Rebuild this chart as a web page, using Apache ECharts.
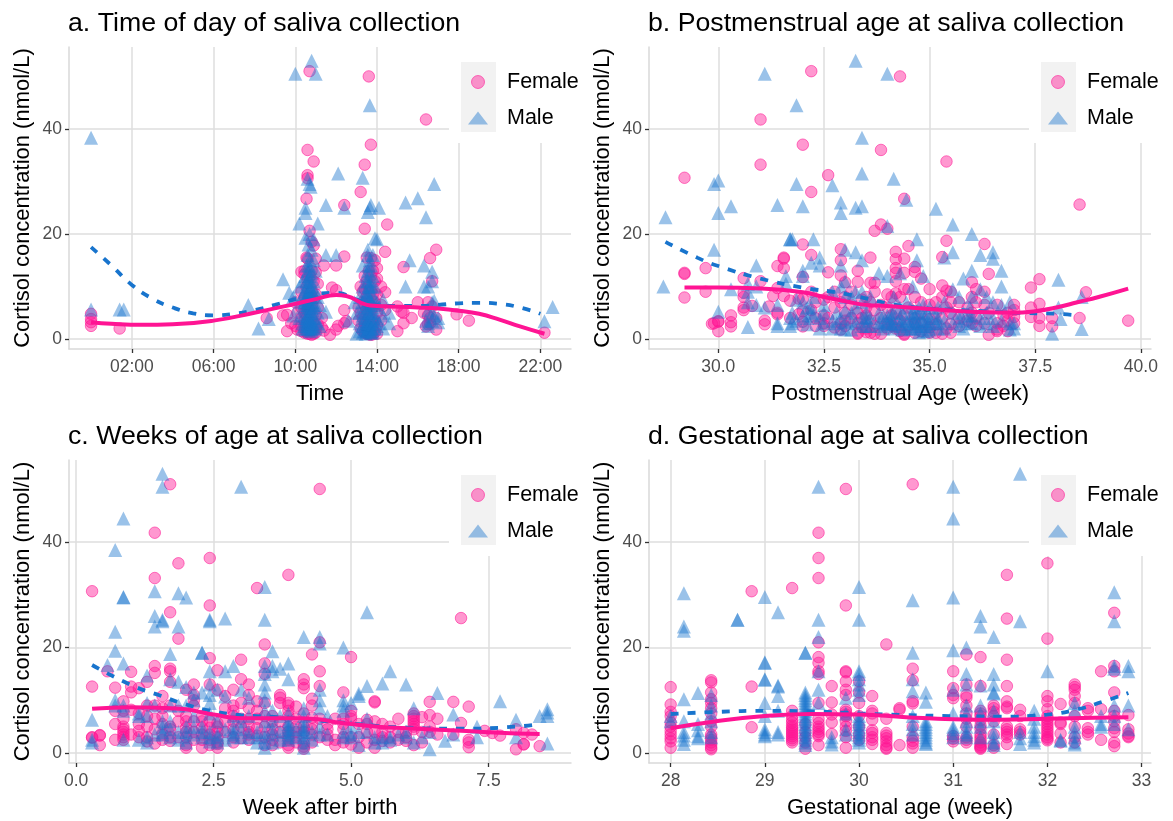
<!DOCTYPE html>
<html><head><meta charset="utf-8">
<style>html,body{margin:0;padding:0;background:#fff}#c{width:1173px;height:821px}</style>
<script src="https://cdn.jsdelivr.net/npm/echarts@6/dist/echarts.min.js"></script>
</head><body><div id="c"></div>
<script>
// Each block: [x, [y values read at that x]]
const aFemale=[[0,[4.8,3.8,3.2,2.5]],[1.4,[2]],[8.6,[4]],[9.4,[4.5]],[9.6,[1.5,4.6]],[9.8,[3]],[10,[7,2.5]],[10.1,[1.8,5]],
[10.3,[12.8,9,6,4,2.5,1.5]],[10.45,[13,12.3,8,5,3.5,1.2]],[10.55,[26.7,15.5,10,7,4.5,2.8,1.4]],[10.6,[36,31.2,30.6,15.3,11,6,3.2,1]],[10.7,[51,20.6,12,8,5,2.2,1]],[10.8,[18.5,13,9,6.5,4,1.6,0.8]],[10.9,[33.8,17.8,11,7.5,3,1]],[11,[15.3,12.7,8.5,4.5,2,1.2]],[11.1,[10.5,6,2.8]],[11.4,[14,1.6]],[11.3,[2.2,4]],[11.7,[0.8]],[11.8,[9.8]],[12,[14,9.3,1.8]],[12.1,[2.5]],[12.4,[25.5,15.7,5.5,3]],[12.5,[3.4]],
[13.1,[3.5,6]],[13.2,[28,10,5,2]],[13.3,[9,7,4,1.5]],[13.4,[33.2,21,12,9.5,6.5,3,1.2]],[13.5,[15.5,11,8,5,2.5,1]],[13.6,[50,13,10,7,4,1.6,0.9]],[13.7,[37,15.4,12,9,5.5,3,1,0.8]],[13.8,[13,8.5,6,2.2,0.9]],[13.9,[15,11,7,3.5,1.3]],[14,[13.5,11.5,8.5,5,2.5,1]],[14.2,[10,6.5,3.5]],[14.4,[16.6,8.9,5.5]],[14.5,[21.8]],
[15,[1.5,6.2]],[15.2,[5.2]],[15.3,[13.7,3,5]],[15.7,[4]],[16,[7]],[16.3,[5]],[16.4,[41.8,2.4]],[16.5,[7,4.5,2.8]],[16.6,[15.4,3,4]],[16.7,[11,6.2]],[16.9,[17,4,1.8]],[17.9,[4.7]],[18.5,[3.5]],[22.2,[1.2]]];
const aMale=[[0,[38.3,5.6]],[1.4,[5.6]],[1.6,[5.6]],[7.7,[6.5]],[8.2,[2]],[8.7,[3.8]],[9.4,[11.4]],[9.7,[8.8]],[9.9,[4.5,8]],[10,[50.5]],
[10.2,[22,10,7,4]],[10.35,[11,8,6,3,2]],[10.45,[9,7,4.5,2.5]],[10.5,[25,24,19.3,12,9.5,7.5,5.5,3.5,1.8]],[10.55,[14,11,8.5,6.5,4,2.5]],[10.6,[30.5,16,13,10.5,8.5,6.5,4.5,3,2]],[10.65,[18,14,11.5,9,7,5,3.5,2]],[10.7,[29.5,20,15,12,10,8,6,4,2.5,1.5]],[10.75,[29,13.5,11,9,7,5,3.5,2]],[10.8,[53,17,12.5,10,8,6,4,2.5,1.6]],[10.85,[9,7,5.5,3,2]],[10.9,[19,15,11,8.5,6,4,2.2]],[11,[50.5,13,9,6.5,3.5,2]],[11.1,[22,8,5,3]],[11.2,[6.5,2.5]],[11.5,[25.5,16,5.2]],[12,[16]],[12.1,[31.5]],[12.4,[25]],[12.6,[3.5]],[12.9,[7]],[13,[1,5]],
[13.15,[8,5,3,1.5]],[13.3,[30.7,14,10,7,4.5,2.5,1.2]],[13.4,[8,6,4,2.5,1.5]],[13.45,[12,9,6.5,4,2,1]],[13.5,[11,8.5,5.5,3,1.5]],[13.55,[24.2,17,16,13,11,8.5,6,3.5,1.8]],[13.6,[14,10,7.5,5,3,2]],[13.65,[44.5,25,15,12.5,10,7.5,5,3,1.5]],[13.7,[25.5,14,11,9,6.5,4,2.2,1.2]],[13.75,[10,7,5,3.5,2,1.2]],[13.8,[16,12,8,5,2.8,1.4]],[13.9,[19.2,10,6.5,3.5,2]],[14,[19,7,4,2.5]],[14.1,[25,6,3]],[14.3,[7.5,4.5,2]],[14.6,[5,3]],
[15.4,[26,10]],[15.6,[15]],[16,[26.8]],[16.3,[14,10]],[16.4,[23.2,3.5]],[16.5,[10,5.5,3,2.5]],[16.7,[12.8,11,7,5,3.5]],[16.8,[29.5,7.3,4.5]],[17,[4,3.2]],[22.2,[3.4]],[22.6,[6.1]]];
const aFemaleLine=[[0,3.2],[1,2.9],[2.5,2.7],[4,2.8],[6,3.5],[8,5],[10,6.7],[11,7.6],[12,8.4],[12.5,8.2],[13.5,6.5],[14,6.3],[16,6],[17,5.8],[18,5.4],[19,4.8],[20,3.7],[21,2.4],[22.2,1]];
const aMaleLine=[[0,17.5],[1,14],[2,10.3],[3,7.7],[4,6],[5,4.9],[6,4.5],[7,4.8],[8,5.5],[9,6.5],[10,7.6],[11,8.6],[12,8.8],[13,7.5],[14,6.4],[15,6.3],[16,6.3],[17,6.5],[18,6.8],[19,6.9],[20,6.7],[21,6],[22,4.8]];

const bFemale=[[29.2,[30.7,12.6,12.4,7.9]],[29.7,[13.5,9]],[29.85,[2.9]],[29.9,[3]],[30,[3.4,3.3,1.5]],[30.3,[4.5,3.2,2.4]],[30.6,[11.6,8.8,8,6,5.5]],[30.8,[6.3]],[31,[41.8,33.2,11]],[31.1,[3.5,2.8]],[31.2,[6.2]],[31.3,[8.2]],[31.4,[13.9,9.7,5,4.7]],[31.55,[15.5,15.3,13.5,8.2]],[31.7,[7.3,4]],[31.9,[7.7,4.7]],[32,[37,18,11.8,7.6,5.3,3.3,2.4]],[32.2,[51,28,16,9,5.5]],[32.5,[7.5,4.5,3,2.5]],[32.6,[31.2,12.7,8,4]],[32.9,[17.1,15,12.1,7,3,1.8]],[33,[10.8,8,5,3.5,2.5]],[33.3,[13,10.9,5,3,1.2,1]],[33.4,[7.5,4,2.2]],[33.5,[8,6,4.5,2,1.3]],[33.6,[15.5,10.7,7,3.5,1.2]],[33.7,[20.6,10.7,9,1,5.5,2.5]],[33.85,[36,21.8,1,6.5,4]],[34,[21,8.5,6,3,2]],[34.1,[8,4.5,2.5]],[34.2,[16.6,15.2,13.5,12.6,11,8.7,5,2.5,2]],[34.3,[50,8,3.5,1.5]],[34.4,[26.7,15.3,12.6,9.5,4.5,1,0.8]],[34.5,[17.7,9.5,6,2.5]],[34.65,[13.7,12.8,8,4,1.2,3]],[34.8,[11.5,7,5,3,1.5]],[35,[9.5,6.5,3.8,2.2,1.2]],[35.15,[7,5,2.8,1.2]],[35.3,[15.6,10.2,8,4,1]],[35.4,[33.8,18.7,9.2,6,2]],[35.5,[9,7,5,2.8,1.2]],[35.7,[7,4,2.5]],[35.9,[6,3.5]],[36,[10.8,8,5,3]],[36.1,[9.5,7,4,2.5]],[36.3,[18.1,9,6.5,3]],[36.4,[12.4,5,0.8]],[36.6,[6.5,3,1.5,1.8]],[36.85,[5,3.5,1.5]],[37,[6.5,5.5,4.2,3]],[37.4,[9.8,6,4.2]],[37.6,[11.4,6.7,4,2.5]],[37.9,[4,2.4]],[38.55,[25.6,4]],[38.7,[8.9]],[39.7,[3.5]],[32.3,[7,4,2.5]],[32.75,[9,6,2.2]],[33.15,[9,6.5,4]],[36.75,[4.5,2.5]]];
const bMale=[[28.7,[10]],[28.75,[23.2]],[29.9,[29.5,17]],[30,[30.2,24,5.2]],[30.3,[25.3,9.5]],[30.7,[2.3,7,9,10.5]],[30.9,[14,6.5,10]],[31.1,[50.5,6]],[31.4,[25.5,6.5,3,2.5]],[31.6,[12,10.5]],[31.7,[19,19,4,2.5]],[31.75,[19,5,3]],[31.85,[44.5,29.5,7.5,3.5]],[32,[25.3,13,12,7,4.5]],[32.2,[14.5,5,6]],[32.25,[19,4.5,8]],[32.4,[15.5,14,2,4]],[32.5,[3,5,6.5]],[32.7,[29.3,9,3.5,2]],[32.8,[5,3]],[32.9,[26,24,14,10,4,2]],[33,[17,11,8,5.5,3.2,1.8]],[33.25,[53,25,16.5,9,6,3]],[33.4,[38.3,31.5,25.3,15,9,7,4,2.5]],[33.5,[5,3.5,2.5,4.2]],[33.6,[8,4,2.5]],[33.8,[12.5,5,3.2,2.5]],[33.9,[4.5,3,2]],[34,[50.5,21.5,12,3.5,2.8,4.5]],[34.1,[5,4,3,2.5]],[34.15,[30.5,8,5,3,2]],[34.3,[12.5,6,4,2.8]],[34.35,[5,3.5,2.5,1.8]],[34.45,[26.5,7,3.5,2]],[34.55,[6,4.5,3,2]],[34.6,[10,5,4,3,2]],[34.7,[19,15,5,3.5,2.5]],[34.75,[6,4.8,3,2,1.3]],[34.85,[12,6.5,4.5,3.5,2.5,1.5]],[34.95,[5,3.5,2.5,1.5]],[35,[6,3,4,1.8]],[35.15,[24.8,3,4.5]],[35.2,[6,4,3,2]],[35.35,[15.5,7,3.5,2]],[35.55,[21.8,16.5,9.5,5,3]],[35.8,[11.5,5,3.5,2]],[35.95,[6,4.5,3]],[36,[20,13,8,4.5,3]],[36.2,[16,9.5,4,2.5]],[36.5,[16.5,15.3,7,4,2.5]],[36.7,[13,10,6.5,3.5]],[36.9,[7,3,1.8]],[37,[3,2]],[38.05,[11.3,6]],[38.1,[3.8]],[37.9,[1]],[38.6,[8,1.9]],[32.1,[4,2.8,6]],[33.15,[8,5,3.5,1.8]],[35.7,[8,4,2.5]],[36.35,[8,5,3]]];
const bFemaleLine=[[29.2,9.8],[30,9.8],[31,9.6],[32,8.9],[32.5,8],[33,7.2],[33.5,6.5],[34,6.3],[35,5.7],[36,5.2],[37,5],[37.5,5.3],[38,6],[38.5,7],[39,8],[39.7,9.6]];
const bMaleLine=[[28.75,18.5],[29.5,15.5],[30,13.9],[31,11.5],[32,9.8],[33,8.6],[34,6.8],[34.5,6.2],[35,5.8],[36,5.4],[37,5],[38,4.8],[38.5,4.5]];

const cFemale=[[0.29,[30.7,12.6,3,2.9]],[0.43,[3.4,3.3,1.5]],[0.57,[15.5]],[0.71,[12.4,8,5.5,2.5]],[0.86,[9.8,8,6.5,5,4.5,4,3.5,3,2.5]],[1,[15.4,12.6,11.5,8.2,3.5]],[1.14,[12.3,7.5,4.2]],[1.29,[13.5,9,7,5,3,2.2]],[1.43,[41.8,33.2,16.5,15.2,9,6.5,4.5,1.8]],[1.57,[10.8,8.5,5.5,3.5]],[1.71,[51,26.7,16,15.5,13.5,9,5,4.5,3,2.3]],[1.86,[36,21.7,6,3,8]],[2,[12,7,4.8,3,1.5,1]],[2.14,[13,11,10,9,6,2.5,4]],[2.29,[7,4.8,2.5,1]],[2.43,[37,28,18,13,6,4.8,3.5,2.5,1.5]],[2.57,[15.7,12,5.7,5,3,1.7,1]],[2.71,[10.8,8.5,4,6]],[2.86,[12,9,8,7,4.5,3]],[3,[17.7,14,9.5,6.5,2.8,5]],[3.14,[13,11,8.5,5,2.5]],[3.29,[31.3,9.8,8,4.7,3.3,6.5]],[3.43,[20.6,17,15,9.5,7,5,3,1.5]],[3.57,[6,2.5,1.5,4.5]],[3.71,[11,10.5,9.5,6,2,4]],[3.86,[33.8,9.5,9,8,7,2.5,1.5,1,5]],[4,[8.8,6.5,3,5]],[4.14,[14,13,12.3,7.5,5,4,1.8,1.2,0.8]],[4.29,[18.7,10.3,9,6.7,5.5,3.5]],[4.43,[50.1,21,15.5,12.7,6.5,3]],[4.57,[4.5,3.5]],[4.71,[6.5,2.5,1.5]],[4.86,[11.5,6.5,4.5,2]],[5,[18.2,8,7,6.5,3,1.6]],[5.14,[5.5,1,3]],[5.29,[6.3,5.5,2,4]],[5.43,[9.8,9.6,6,4,2.5,1]],[5.57,[5.5,4,2.3,3]],[5.71,[5,3,2]],[5.86,[6.5,4,2.5]],[6,[4,3,2.3]],[6.14,[7.5,7,6.5,6,5.5,5,4.5,1.5]],[6.29,[6.8,2,4]],[6.43,[9.7,7.2,4,5]],[6.57,[6.5,3.5]],[6.86,[9.7,3.5]],[7,[25.6,5.7]],[7.14,[8.8,2.5,2,1.1]],[7.43,[4.2]],[7.57,[3.8]],[7.71,[3.3]],[8,[4.5,0.7]],[8.14,[1.7,1.6,3.8]],[8.29,[3.5]],[8.43,[1.3]],[1.14,[3,5.5]],[1.57,[2.5,7]],[2,[4,6]],[2.29,[3.5,6]],[2.57,[4,2]],[2.86,[6,2]],[3.14,[4,3.5,6.5]],[3.57,[3.5,7]],[3.86,[4,3.2]],[4,[2,4]],[4.29,[2,4.5]],[4.57,[5.5,2.5]],[4.86,[3,5.5]]];
const cMale=[[0.29,[6.3,2.5,2]],[0.57,[16.7]],[0.71,[38.5,23,19.4,10,9]],[0.86,[44.5,29.6,29.5,17,9,8,2.5]],[1.14,[7.5,7,2.5]],[1.29,[14.7,9.5,7,2,3]],[1.43,[30.7,26,24,9,3.5]],[1.57,[53,50.5,25.3,25,6,5,4]],[1.71,[18.8,14,9,6,4.5,3]],[1.86,[30.3,24,13.5,9,4,2.5]],[2,[29.5,12.5,9,5,3,2,4]],[2.14,[11.5,10,7,3.5,5]],[2.29,[19,19,11.5,5,3,4]],[2.43,[25.3,25,15.5,13,11,9.5,7.5,4,2.2,3]],[2.57,[12,6,3.5,3,2]],[2.71,[25.5,15.5,10.7,4.5,2.5]],[2.86,[16.5,7,5,3.5]],[3,[50.5,12,6,3,4.5]],[3.14,[10.5,7,3,4]],[3.29,[4,3,2]],[3.43,[31.5,25.3,16.5,15,13,11.5,10,8,6,4,2,1,3]],[3.57,[19.3,16.5,15.5,8,2,3.5]],[3.71,[16,7,4,2.5]],[3.86,[17,14,7.5,6,5,4,3,2.5]],[4,[4.5,3]],[4.14,[22,8.5,6,4,3,2,1,5,7]],[4.29,[4,2.5]],[4.43,[22,20.8,12,10,8.5,5,3.5]],[4.57,[7,3.5]],[4.86,[20,10,9,8,4,3]],[5,[9.5,5,3.5,3]],[5.14,[11.3,10.8,1.5,4]],[5.29,[26.7,12.7,6.5,4]],[5.43,[3,2]],[5.57,[13.2,3,2]],[5.71,[15.5,3,2.5]],[5.86,[3.5]],[6,[13,4,3]],[6.14,[8.5,2]],[6.29,[3]],[6.43,[4,0.7]],[6.57,[11.4]],[6.71,[2.3]],[6.86,[7.3,3.5]],[7.29,[5,3]],[7.71,[9.8]],[8,[6.3,3]],[8.43,[7]],[8.57,[8.3,7.7,7,1.8]],[3.86,[3.5,4.5,5.5]],[4.14,[3.5,4.5]],[2.86,[3,4]],[3.57,[4.5,6]],[1.57,[3.5]]];
const cFemaleLine=[[0.29,8.4],[1,8.7],[1.5,8.6],[2,8.3],[2.2,7.9],[2.5,7.3],[3,6.6],[3.5,6.6],[4,6.6],[4.4,6.4],[4.7,5.9],[5,5.5],[5.5,5],[6,4.7],[7,4.2],[8,3.7],[8.43,3.6]];
const cMaleLine=[[0.29,16.7],[1,12.9],[1.5,11],[2,9.2],[2.5,7.9],[3,7.2],[4,6.6],[5,5.6],[6,4.8],[7,4.6],[8,5],[8.43,5.5]];

const dFemale=[[28,[12.5,9.2,7.8,7,5.8,5,4.2,3.5,2.8,2.2,1]],[28.43,[13.8,13.4,11.5,10.2,9.5,8.5,7.5,6,5,3.5,3,2.5,2,1.5,1,0.7]],[28.86,[30.7,12.6,4.9]],[29.29,[31.3,8,7,6.3,5.8,5.2,4.8,4.4,4,3.6,3.2,2.8,2.4,2]],[29.43,[5.5,4,3,2,0.8]],[29.57,[41.8,37,33.2,21,18.2,17.1,15.5,15,9.5,6.5,5.7,5,4.5,4,3.5,3.2,1.5]],[29.71,[12.7,9.6,7.3,5.8,3.6]],[29.86,[50.1,28,15.5,15.3,13.6,12,11,8.2,7.8,7.3,7,6,5,4.2,3,1]],[30,[13.6,11.5,9.5,7,5,3.5,2.5]],[30.14,[10.8,8,7.5,6.3,4.3,3.8,3,2.5,1.7]],[30.29,[20.6,6.5,3.8,3.3,2.8,2.2,1.5,1,0.8]],[30.43,[8.5,8.2,1.5]],[30.57,[51,16,13.8,9.8,9.4,5,3,2.3,1.8,1]],[31,[15.5,12.3,11,10.4,3.2,2.7,2.2]],[31.14,[18.7,13,11,10.5,9,7.5,6.5,5,3,2.5,2]],[31.29,[18.2,12.7,8,7.5,7,6.2,5.2,4.5,3.5,3,2.5,2,1.5,1.2,1,0.8]],[31.43,[9,8.5,7.8,7,6,3.5,1.5,1]],[31.57,[33.8,25.5,17.7,12.7,9.8,8.8,8.5,5,4.5,4,3.5,3,1.7]],[31.71,[8.2,7,4.5,4,3.5]],[32,[36,21.7,10.8,9.8,8.3,7,6.5,6,5.5,5,4.5,4,3.5,3,2.7,2.4]],[32.14,[9.3,5.8,5.5,3.7,2]],[32.29,[13,12.5,12,10.8,9.5,7,5,3,2]],[32.43,[8.5,8,4.7,4,3.5]],[32.57,[15.5,8.3,2.5]],[32.71,[26.6,16.5,15.5,11.5,8,7,6,4.7,4,2,1.3]],[32.86,[7.2,4.5,3.7,3.2,3]]];
const dMale=[[28,[7,6]],[28.14,[30.3,24,23.2,10.2,6,4,3.3,2.5,1.7]],[28.29,[11.4,5.5,4.3,3.2,2.8]],[28.43,[11,9,7.5,6,4,3]],[28.71,[25.3,25.3]],[29,[29.6,17.2,17.1,14,13.9,9.5,7,4.5,4,3.5,3.2]],[29.14,[26.7,12.8,12.6,10.8,8,4,3.5]],[29.43,[19,19,11.5,11,10.5,10,9.5,9,8.5,8,7.5,7,6.5,6,5.5,5,4.5,4,3.5,3,2.5,2,1.5]],[29.57,[50.5,25.3,22,15.5,12,9.5]],[29.71,[3,2.2,1.6]],[29.86,[10.5,7.5,4.5,3.5]],[30,[31.5,25.3,15.5,15,14,13,12,11,7,6.5,6,5.5,5,4.5,4,3.5,3,2.5,2]],[30.57,[29,19,14,11.7,7,5.5,4.5,3.5]],[30.71,[11.5,9.7,6,5.5,5,4.5,4,3.5,3,2.5,2,1.7]],[31,[50.5,44.5,29.5,19.5,12,7.5,5,4.5,3.8,3]],[31.14,[20,15,13,9,7.5,6,5,4,3.5,3]],[31.29,[26,24,12.8,9,7.5,6,5,3]],[31.43,[22,15,13,11.5,11.3,8,6,4,3,2,1.5]],[31.71,[53,25,4,2.8,1.7]],[31.86,[8,6.5,5,4,3.2,2.5,2]],[32,[15.5]],[32.14,[2.5,2.3]],[32.29,[9.5,8,5,4,3,2,1.6]],[32.57,[7,5.5,5]],[32.71,[30.5,25,16.5,16,9,7,5.5]],[32.86,[16.5,15.5,9,4.5]]];
const dFemaleLine=[[28,4.7],[28.43,5.9],[29,7],[29.5,7.4],[30,7.3],[30.5,6.8],[31,6.4],[31.5,6.3],[32,6.5],[32.5,6.7],[32.86,6.8]];
const dMaleLine=[[28,7.4],[28.5,7.8],[29,8],[29.5,7.9],[30,7.5],[30.5,7.2],[31,7],[31.5,6.9],[32,7.3],[32.3,8.2],[32.6,9.8],[32.86,11.4]];

const yTicks=[0,20,40];
const aTicks=[2,6,10,14,18,22], bTicks=[30,32.5,35,37.5,40], cTicks=[0,2.5,5,7.5], dTicks=[28,29,30,31,32,33];
const titles=['a. Time of day of saliva collection','b. Postmenstrual age at saliva collection','c. Weeks of age at saliva collection','d. Gestational age at saliva collection'];
const xNames=['Time','Postmenstrual Age (week)','Week after birth','Gestational age (week)'];
const yName='Cortisol concentration (nmol/L)';
const FONT='"Liberation Sans"';
const pink='#ff1493', blue='#1874cd';

const panels=[
 {f:aFemale,m:aMale,fl:aFemaleLine,ml:aMaleLine,t:aTicks,xmin:-1.08,xmax:23.5,left:69,top:47,bottom:349,fmt:v=>String(v).padStart(2,'0')+':00'},
 {f:bFemale,m:bMale,fl:bFemaleLine,ml:bMaleLine,t:bTicks,xmin:28.36,xmax:40.24,left:649,top:47,bottom:349,fmt:v=>v.toFixed(1)},
 {f:cFemale,m:cMale,fl:cFemaleLine,ml:cMaleLine,t:cTicks,xmin:-0.13,xmax:9.0,left:69,top:460,bottom:763,fmt:v=>v.toFixed(1)},
 {f:dFemale,m:dMale,fl:dFemaleLine,ml:dMaleLine,t:dTicks,xmin:27.77,xmax:33.1,left:649,top:460,bottom:763,fmt:v=>String(v)}
];
const W=502;
const flat=b=>b.flatMap(([x,ys])=>ys.map(y=>[x,y]));
const opt={animation:false,backgroundColor:'#fff',textStyle:{fontFamily:FONT},title:[],grid:[],xAxis:[],yAxis:[],series:[],legend:[],graphic:[]};
const gridLine={show:true,lineStyle:{color:'#dedede',width:1.5}};
const axisLine={show:true,onZero:false,lineStyle:{color:'#d9d9d9',width:1.5}};
const tick=vals=>({show:true,length:4,customValues:vals,lineStyle:{color:'#333',width:1.3}});
panels.forEach((p,i)=>{
  opt.title.push({text:titles[i],left:p.left-1,top:p.top-37,padding:0,textStyle:{fontFamily:FONT,fontSize:26.7,fontWeight:'normal',color:'#000'}});
  opt.grid.push({left:p.left,top:p.top,width:W,height:p.bottom-p.top,containLabel:false});
  opt.xAxis.push({type:'value',gridIndex:i,min:p.xmin,max:p.xmax,name:xNames[i],nameLocation:'middle',nameGap:34,
    nameTextStyle:{fontFamily:FONT,fontSize:22,color:'#000'},axisLine,axisTick:tick(p.t),splitLine:gridLine,minorSplitLine:{show:false},
    axisLabel:{customValues:p.t,formatter:p.fmt,fontFamily:FONT,fontSize:17.5,color:'#4d4d4d',margin:9,hideOverlap:false,showMinLabel:true,showMaxLabel:true}});
  opt.yAxis.push({type:'value',gridIndex:i,min:-1.9,max:55.6,name:yName,nameLocation:'middle',nameGap:35,
    nameTextStyle:{fontFamily:FONT,fontSize:22,color:'#000'},axisLine,axisTick:tick(yTicks),splitLine:gridLine,
    axisLabel:{customValues:yTicks,fontFamily:FONT,fontSize:17.5,color:'#4d4d4d',margin:7}});
  opt.series.push({name:'Female',type:'scatter',xAxisIndex:i,yAxisIndex:i,data:flat(p.f),symbol:'circle',symbolSize:11.5,z:2,
    itemStyle:{color:'rgba(255,20,147,0.55)',borderColor:'rgba(255,20,147,0.7)',borderWidth:1}});
  opt.series.push({name:'Male',type:'scatter',xAxisIndex:i,yAxisIndex:i,data:flat(p.m),symbol:'triangle',symbolSize:14,z:2,
    itemStyle:{color:'rgba(24,116,205,0.55)'}});
  opt.series.push({name:'Male trend',type:'line',xAxisIndex:i,yAxisIndex:i,data:p.ml,smooth:true,showSymbol:false,z:3,silent:true,
    lineStyle:{color:blue,width:3.8,type:[8,9]}});
  opt.series.push({name:'Female trend',type:'line',xAxisIndex:i,yAxisIndex:i,data:p.fl,smooth:true,showSymbol:false,z:4,silent:true,
    lineStyle:{color:pink,width:4}});
  opt.graphic.push({type:'rect',z:1,silent:true,shape:{x:p.left+380,y:p.top,width:135,height:96},style:{fill:'#fff'}});
  opt.graphic.push({type:'rect',z:1,silent:true,shape:{x:p.left+392,y:p.top+15,width:35,height:70},style:{fill:'#f2f2f2'}});
  opt.legend.push({left:p.left+394,top:p.top+19,orient:'vertical',itemWidth:20,itemHeight:13,itemGap:14,selectedMode:false,
    data:[{name:'Female',icon:'circle',itemStyle:{color:'rgba(255,20,147,0.55)',borderColor:'rgba(255,20,147,0.7)',borderWidth:1}},
          {name:'Male',icon:'triangle',itemStyle:{color:'rgba(24,116,205,0.55)'}}],
    textStyle:{fontFamily:FONT,fontSize:21.5,color:'#000',padding:[0,0,0,14]}});
});
echarts.init(document.getElementById('c'),null,{renderer:'canvas'}).setOption(opt);
</script></body></html>
